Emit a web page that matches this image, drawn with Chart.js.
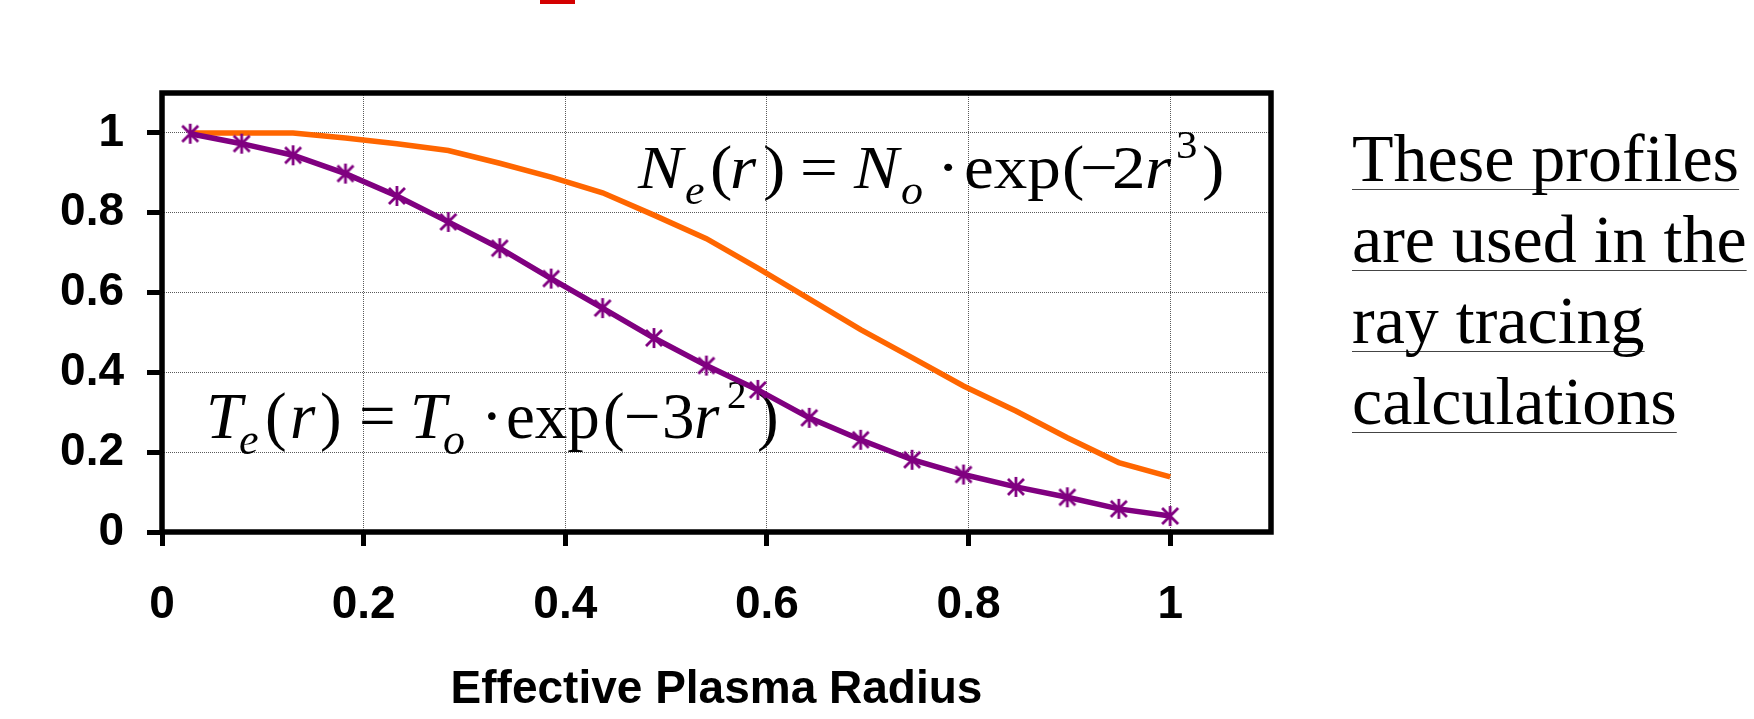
<!DOCTYPE html>
<html>
<head>
<meta charset="utf-8">
<script src="https://cdn.jsdelivr.net/npm/chart.js@4.4.1/dist/chart.umd.min.js"></script>
<style>
  html, body { margin: 0; padding: 0; background: #fff; }
  #wrap { position: relative; width: 1754px; height: 719px; overflow: hidden; }
  #c { position: absolute; left: 0; top: 0; }
  #note {
    position: absolute; left: 1352px; top: 118px;
    font-family: 'Liberation Serif', 'Times New Roman', serif;
    font-size: 68px; line-height: 81px; color: #000; white-space: nowrap;
  }
  #note span {
    text-decoration: underline;
    text-decoration-color: #444;
    text-decoration-thickness: 1.2px;
    text-underline-offset: 8px;
    text-decoration-skip-ink: none;
  }
</style>
</head>
<body>
<div id="wrap">
  <canvas id="c" width="1754" height="719"></canvas>
  <div id="note"><span>These profiles</span><br><span>are used in the</span><br><span>ray tracing</span><br><span>calculations</span></div>
</div>
<script>
// Normalised radial profiles used by the ray tracer
const radius = [0.028, 0.079, 0.130, 0.182, 0.233, 0.284, 0.335, 0.386, 0.437, 0.488,
                0.540, 0.591, 0.642, 0.693, 0.744, 0.795, 0.847, 0.898, 0.949, 1.0];
const electronTemp = [0.998, 0.973, 0.944, 0.898, 0.842, 0.777, 0.711, 0.635, 0.561, 0.486,
                      0.417, 0.356, 0.286, 0.231, 0.181, 0.144, 0.113, 0.087, 0.058, 0.040];
const electronDensity = [1.0, 1.0, 1.0, 0.987, 0.973, 0.956, 0.924, 0.889, 0.850, 0.794,
                         0.735, 0.661, 0.584, 0.507, 0.437, 0.366, 0.303, 0.236, 0.174, 0.138];

const xTickValues = [0, 0.2, 0.4, 0.6, 0.8, 1];
const xTickLabels = ['0', '0.2', '0.4', '0.6', '0.8', '1'];
const yTickValues = [0, 0.2, 0.4, 0.6, 0.8, 1];
const yTickLabels = ['0', '0.2', '0.4', '0.6', '0.8', '1'];
const xTitle = 'Effective Plasma Radius';

const PURPLE = '#800080';
const ORANGE = '#FF6600';
const sansBold = { family: "'Liberation Sans', Arial, sans-serif", size: 46, weight: 'bold' };
const serif = "'Liberation Serif', 'Times New Roman', serif";

// asterisk marker: vertical stroke plus a diagonal cross
function asteriskMarker(color, size, lw) {
  const c = document.createElement('canvas');
  c.width = c.height = size;
  const g = c.getContext('2d');
  const m = size / 2, r = size / 2 - 1, d = r * 0.8;
  g.strokeStyle = color;
  g.lineWidth = lw;
  g.beginPath();
  g.moveTo(m, m - r); g.lineTo(m, m + r);
  g.moveTo(m - d, m - d); g.lineTo(m + d, m + d);
  g.moveTo(m + d, m - d); g.lineTo(m - d, m + d);
  g.stroke();
  return c;
}

const toPoints = (xs, ys) => xs.map((x, i) => ({ x: x, y: ys[i] }));

// formula annotations, set in Times-style serif with sub/superscripts
const densityFormula = {
  stretch: 1.1,
  glyphs: [
    { t: 'N', x: 638, y: 188, s: 61, i: true },
    { t: 'e', x: 685, y: 204, s: 40, i: true },
    { t: '(', x: 710, y: 188, s: 61 },
    { t: 'r', x: 730, y: 188, s: 61, i: true },
    { t: ')', x: 763, y: 188, s: 61 },
    { t: '=', x: 800, y: 188, s: 61 },
    { t: 'N', x: 854, y: 188, s: 61, i: true },
    { t: 'o', x: 901, y: 204, s: 40, i: true },
    { t: '\u00B7', x: 937, y: 188, s: 61 },
    { t: 'exp', x: 964, y: 188, s: 61 },
    { t: '(', x: 1062, y: 188, s: 61 },
    { t: '\u2212', x: 1080, y: 188, s: 61 },
    { t: '2', x: 1112, y: 188, s: 61 },
    { t: 'r', x: 1145, y: 188, s: 61, i: true },
    { t: '3', x: 1176, y: 158, s: 39 },
    { t: ')', x: 1202, y: 188, s: 61 }
  ]
};
const tempFormula = {
  stretch: 1.0,
  glyphs: [
    { t: 'T', x: 206, y: 438, s: 65, i: true },
    { t: 'e', x: 239, y: 454, s: 44, i: true },
    { t: '(', x: 265, y: 438, s: 65 },
    { t: 'r', x: 290, y: 438, s: 65, i: true },
    { t: ')', x: 320, y: 438, s: 65 },
    { t: '=', x: 359, y: 438, s: 65 },
    { t: 'T', x: 410, y: 438, s: 65, i: true },
    { t: 'o', x: 443, y: 454, s: 44, i: true },
    { t: '\u00B7', x: 481, y: 438, s: 65 },
    { t: 'exp', x: 506, y: 438, s: 65 },
    { t: '(', x: 603, y: 438, s: 65 },
    { t: '\u2212', x: 624, y: 438, s: 65 },
    { t: '3', x: 662, y: 438, s: 65 },
    { t: 'r', x: 694, y: 438, s: 65, i: true },
    { t: '2', x: 727, y: 408, s: 39 },
    { t: ')', x: 757, y: 438, s: 65 }
  ]
};

function drawFormula(ctx, f) {
  for (const p of f.glyphs) {
    ctx.save();
    ctx.font = (p.i ? 'italic ' : '') + p.s + 'px ' + serif;
    ctx.translate(p.x, p.y);
    ctx.scale(f.stretch, 1);
    ctx.fillText(p.t, 0, 0);
    ctx.restore();
  }
}

const decorations = {
  id: 'decorations',
  beforeDatasetsDraw(chart) {
    const { ctx, chartArea: a } = chart;
    ctx.save();
    ctx.strokeStyle = '#000';
    ctx.lineWidth = 5.5;
    ctx.strokeRect(a.left, a.top, a.right - a.left, a.bottom - a.top);
    ctx.fillStyle = '#000';
    ctx.textBaseline = 'alphabetic';
    ctx.textAlign = 'left';
    drawFormula(ctx, densityFormula);
    drawFormula(ctx, tempFormula);
    ctx.restore();
  },
  afterDraw(chart) {
    const { ctx } = chart;
    ctx.save();
    ctx.fillStyle = '#D40000';
    ctx.fillRect(540, 0, 35, 4);
    ctx.restore();
  }
};

new Chart(document.getElementById('c'), {
  type: 'line',
  data: {
    datasets: [
      {
        label: 'Te',
        data: toPoints(radius, electronTemp),
        borderColor: PURPLE,
        borderWidth: 5.5,
        tension: 0,
        pointStyle: asteriskMarker(PURPLE, 22, 2.8),
        pointRadius: 10,
        pointBorderColor: PURPLE,
        pointBackgroundColor: PURPLE
      },
      {
        label: 'Ne',
        data: toPoints(radius, electronDensity),
        borderColor: ORANGE,
        borderWidth: 5.5,
        tension: 0,
        pointRadius: 0
      }
    ]
  },
  options: {
    responsive: false,
    animation: false,
    devicePixelRatio: 1,
    layout: { padding: { left: 0, top: 93, right: 483, bottom: 0 } },
    plugins: { legend: { display: false }, tooltip: { enabled: false } },
    scales: {
      x: {
        type: 'linear',
        min: 0, max: 1.1,
        afterFit(scale) { scale.height = 187; },
        afterBuildTicks(scale) { scale.ticks = xTickValues.map(v => ({ value: v })); },
        ticks: {
          font: sansBold, color: '#000', padding: 32, maxRotation: 0,
          callback: (v, i) => xTickLabels[i]
        },
        grid: {
          color: '#5a5a5a', lineWidth: 1,
          tickLength: 14, tickWidth: 5, tickColor: '#000', tickBorderDash: []
        },
        border: { display: false, dash: [1, 1] },
        title: {
          display: true, text: xTitle, font: sansBold, color: '#000',
          padding: { top: 0, bottom: 1 }
        }
      },
      y: {
        type: 'linear',
        min: 0, max: 1.1,
        afterFit(scale) { scale.width = 162; },
        afterBuildTicks(scale) { scale.ticks = yTickValues.map(v => ({ value: v })); },
        ticks: {
          font: sansBold, color: '#000', padding: 23,
          callback: (v, i) => yTickLabels[i]
        },
        grid: {
          color: '#5a5a5a', lineWidth: 1,
          tickLength: 15, tickWidth: 5, tickColor: '#000', tickBorderDash: []
        },
        border: { display: false, dash: [1, 1] }
      }
    }
  },
  plugins: [decorations]
});
</script>
</body>
</html>
